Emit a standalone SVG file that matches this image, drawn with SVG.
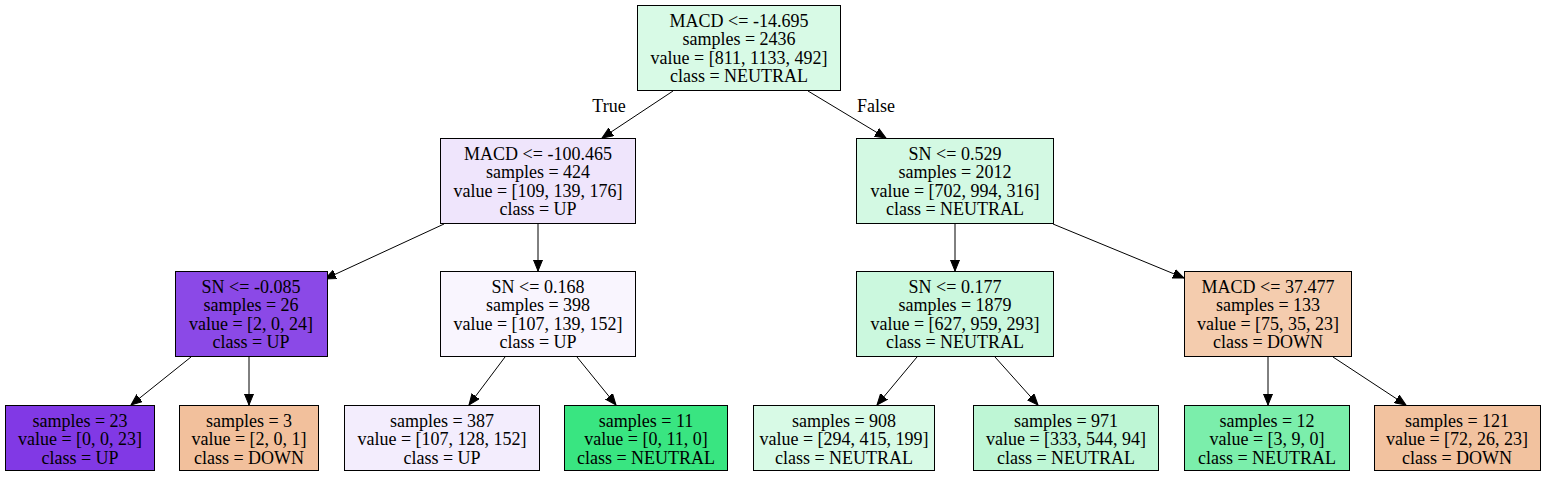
<svg xmlns="http://www.w3.org/2000/svg" width="1547" height="477" viewBox="0 0 1547 477">
<style>
.n rect{stroke:#000;stroke-width:1}
text{font-family:"Liberation Serif","Times New Roman",serif;font-size:18px;fill:#000;text-anchor:middle}
.c line{stroke:#000;stroke-width:1}
</style>
<defs>
<marker id="ah" markerUnits="userSpaceOnUse" markerWidth="12" markerHeight="10" viewBox="0 0 12 10" refX="11" refY="5" orient="auto"><path d="M0,0.5 L11,5 L0,9.5 Z" fill="#000" stroke="#000"/></marker>
</defs>
<rect width="1547" height="477" fill="#fff"/>
<g id="connectors" class="c">
<line x1="673" y1="91" x2="602" y2="138" marker-end="url(#ah)"/>
<line x1="808" y1="91" x2="886" y2="138" marker-end="url(#ah)"/>
<line x1="444" y1="224" x2="325" y2="279" marker-end="url(#ah)"/>
<line x1="538" y1="224" x2="538" y2="271" marker-end="url(#ah)"/>
<line x1="955" y1="224" x2="955" y2="271" marker-end="url(#ah)"/>
<line x1="1053" y1="224" x2="1184" y2="278" marker-end="url(#ah)"/>
<line x1="191" y1="357" x2="131" y2="405" marker-end="url(#ah)"/>
<line x1="249" y1="357" x2="249" y2="405" marker-end="url(#ah)"/>
<line x1="505" y1="357" x2="469" y2="405" marker-end="url(#ah)"/>
<line x1="577" y1="357" x2="616" y2="405" marker-end="url(#ah)"/>
<line x1="917" y1="357" x2="877" y2="405" marker-end="url(#ah)"/>
<line x1="995" y1="357" x2="1038" y2="405" marker-end="url(#ah)"/>
<line x1="1268" y1="357" x2="1268" y2="405" marker-end="url(#ah)"/>
<line x1="1333" y1="357" x2="1406" y2="405" marker-end="url(#ah)"/>
<text x="609" y="112">True</text>
<text x="876" y="112">False</text>
</g>
<g id="n0" class="n"><rect x="637.5" y="5.5" width="203" height="85" fill="#d8fae6"/>
<text x="739" y="26.5">MACD &lt;= -14.695</text><text x="739" y="45">samples = 2436</text><text x="739" y="63.5">value = [811, 1133, 492]</text><text x="739" y="82">class = NEUTRAL</text></g>
<g id="n1" class="n"><rect x="440.5" y="138.5" width="195" height="85" fill="#efe5fc"/>
<text x="538" y="159.5">MACD &lt;= -100.465</text><text x="538" y="178">samples = 424</text><text x="538" y="196.5">value = [109, 139, 176]</text><text x="538" y="215">class = UP</text></g>
<g id="n2" class="n"><rect x="856.5" y="138.5" width="197" height="85" fill="#d3f9e3"/>
<text x="955" y="159.5">SN &lt;= 0.529</text><text x="955" y="178">samples = 2012</text><text x="955" y="196.5">value = [702, 994, 316]</text><text x="955" y="215">class = NEUTRAL</text></g>
<g id="n3" class="n"><rect x="175.5" y="271.5" width="152" height="85" fill="#8b49e7"/>
<text x="251" y="292.5">SN &lt;= -0.085</text><text x="251" y="311">samples = 26</text><text x="251" y="329.5">value = [2, 0, 24]</text><text x="251" y="348">class = UP</text></g>
<g id="n4" class="n"><rect x="440.5" y="271.5" width="195" height="85" fill="#f9f5fe"/>
<text x="538" y="292.5">SN &lt;= 0.168</text><text x="538" y="311">samples = 398</text><text x="538" y="329.5">value = [107, 139, 152]</text><text x="538" y="348">class = UP</text></g>
<g id="n5" class="n"><rect x="856.5" y="271.5" width="197" height="85" fill="#cbf8de"/>
<text x="955" y="292.5">SN &lt;= 0.177</text><text x="955" y="311">samples = 1879</text><text x="955" y="329.5">value = [627, 959, 293]</text><text x="955" y="348">class = NEUTRAL</text></g>
<g id="n6" class="n"><rect x="1184.5" y="271.5" width="167" height="85" fill="#f4ccae"/>
<text x="1268" y="292.5">MACD &lt;= 37.477</text><text x="1268" y="311">samples = 133</text><text x="1268" y="329.5">value = [75, 35, 23]</text><text x="1268" y="348">class = DOWN</text></g>
<g id="n7" class="n"><rect x="5.5" y="405.5" width="149" height="65" fill="#8139e5"/>
<text x="80" y="426.5">samples = 23</text><text x="80" y="445">value = [0, 0, 23]</text><text x="80" y="463.5">class = UP</text></g>
<g id="n8" class="n"><rect x="179.5" y="405.5" width="139" height="65" fill="#f2c09c"/>
<text x="249" y="426.5">samples = 3</text><text x="249" y="445">value = [2, 0, 1]</text><text x="249" y="463.5">class = DOWN</text></g>
<g id="n9" class="n"><rect x="344.5" y="405.5" width="195" height="65" fill="#f3edfd"/>
<text x="442" y="426.5">samples = 387</text><text x="442" y="445">value = [107, 128, 152]</text><text x="442" y="463.5">class = UP</text></g>
<g id="n10" class="n"><rect x="564.5" y="405.5" width="163" height="65" fill="#39e581"/>
<text x="646" y="426.5">samples = 11</text><text x="646" y="445">value = [0, 11, 0]</text><text x="646" y="463.5">class = NEUTRAL</text></g>
<g id="n11" class="n"><rect x="753.5" y="405.5" width="181" height="65" fill="#d8fae6"/>
<text x="844" y="426.5">samples = 908</text><text x="844" y="445">value = [294, 415, 199]</text><text x="844" y="463.5">class = NEUTRAL</text></g>
<g id="n12" class="n"><rect x="973.5" y="405.5" width="185" height="65" fill="#bef6d5"/>
<text x="1066" y="426.5">samples = 971</text><text x="1066" y="445">value = [333, 544, 94]</text><text x="1066" y="463.5">class = NEUTRAL</text></g>
<g id="n13" class="n"><rect x="1184.5" y="405.5" width="165" height="65" fill="#7beeab"/>
<text x="1267" y="426.5">samples = 12</text><text x="1267" y="445">value = [3, 9, 0]</text><text x="1267" y="463.5">class = NEUTRAL</text></g>
<g id="n14" class="n"><rect x="1374.5" y="405.5" width="166" height="65" fill="#f2c29f"/>
<text x="1457" y="426.5">samples = 121</text><text x="1457" y="445">value = [72, 26, 23]</text><text x="1457" y="463.5">class = DOWN</text></g>
</svg>
